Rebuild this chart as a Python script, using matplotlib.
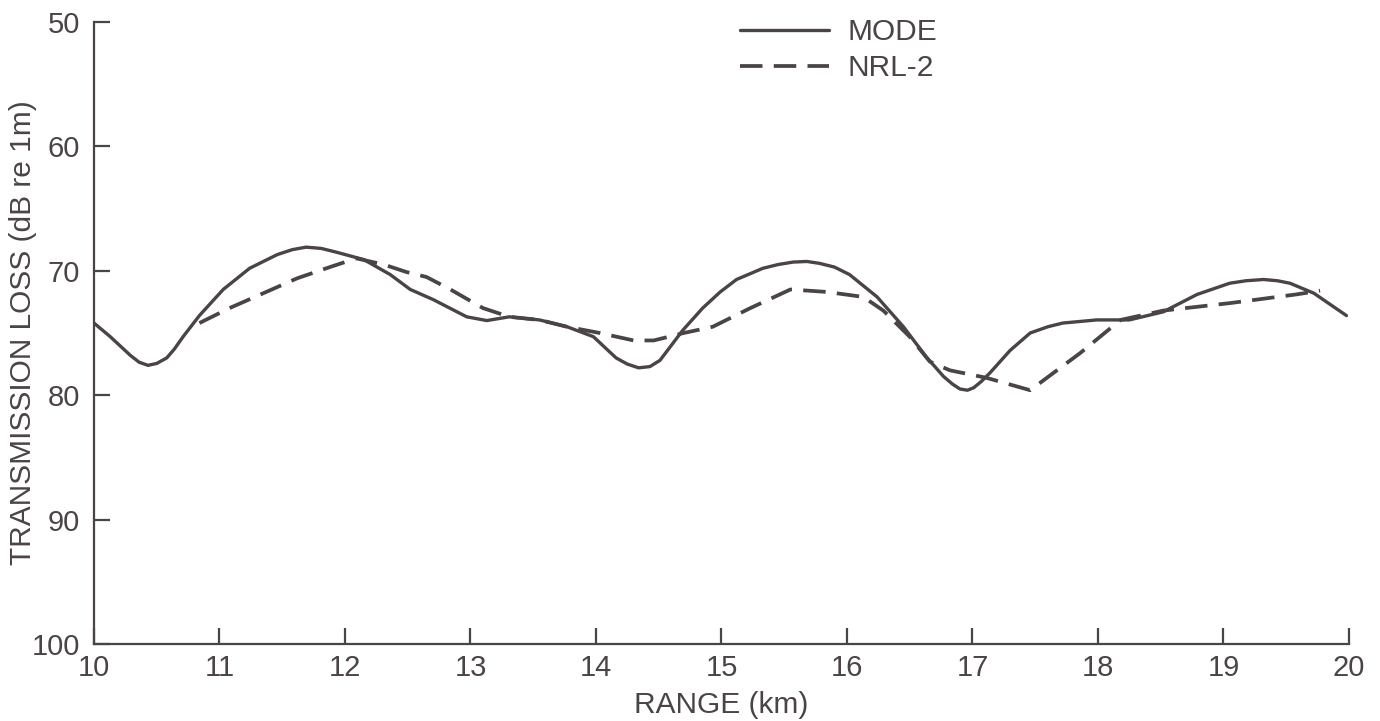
import matplotlib
matplotlib.use("Agg")
import matplotlib.pyplot as plt

# transmission loss vs range, normal-mode model and NRL-2 model
mode_km = [10.0, 10.13, 10.29, 10.36, 10.43, 10.5, 10.58, 10.64, 10.71, 10.84,
           11.03, 11.24, 11.46, 11.58, 11.69, 11.81, 11.93, 12.15, 12.36, 12.52,
           12.7, 12.97, 13.13, 13.31, 13.55, 13.77, 13.98, 14.16, 14.25, 14.34,
           14.43, 14.51, 14.69, 14.85, 14.99, 15.12, 15.33, 15.45, 15.57, 15.68,
           15.78, 15.9, 16.02, 16.24, 16.45, 16.63, 16.77, 16.84, 16.9, 16.96,
           17.01, 17.07, 17.14, 17.3, 17.46, 17.6, 17.72, 17.99, 18.25, 18.52,
           18.79, 19.05, 19.18, 19.32, 19.43, 19.53, 19.72, 19.98]
mode_db = [74.2, 75.3, 76.8, 77.35, 77.6, 77.45, 77.0, 76.3, 75.3, 73.6,
           71.5, 69.8, 68.7, 68.3, 68.1, 68.2, 68.5, 69.1, 70.3, 71.5,
           72.3, 73.7, 74.0, 73.7, 73.95, 74.5, 75.3, 77.0, 77.5, 77.8,
           77.7, 77.2, 74.8, 73.0, 71.7, 70.7, 69.8, 69.5, 69.3, 69.25,
           69.4, 69.7, 70.3, 72.1, 74.5, 76.9, 78.5, 79.1, 79.5, 79.6,
           79.4, 78.9, 78.2, 76.4, 75.0, 74.5, 74.2, 73.95, 73.95, 73.3,
           71.9, 71.0, 70.8, 70.7, 70.8, 71.0, 71.8, 73.6]

nrl_km = [10.84, 11.08, 11.35, 11.62, 11.88, 12.09, 12.31, 12.49, 12.65, 12.84,
          13.1, 13.31, 13.55, 13.77, 14.03, 14.3, 14.46, 14.7, 14.93, 15.23,
          15.55, 15.84, 16.13, 16.29, 16.5, 16.66, 16.82, 17.11, 17.46, 17.86,
          18.18, 18.52, 19.05, 19.58, 19.77]
nrl_db = [74.2, 73.0, 71.8, 70.6, 69.7, 69.0, 69.5, 70.1, 70.5, 71.5,
          73.0, 73.7, 73.95, 74.5, 75.0, 75.6, 75.6, 75.0, 74.5, 73.0,
          71.5, 71.7, 72.1, 73.2, 75.3, 77.3, 78.0, 78.6, 79.6, 76.6,
          73.95, 73.2, 72.6, 71.9, 71.6]

x_ticks = [10, 11, 12, 13, 14, 15, 16, 17, 18, 19, 20]
y_ticks = [50, 60, 70, 80, 90, 100]

ink = "#4a4444"
plt.rcParams["font.family"] = ["Liberation Sans", "DejaVu Sans"]

fig = plt.figure(figsize=(13.8, 7.21), dpi=100)
ax = fig.add_axes([0.0681, 0.1068, 0.9094, 0.8627])

ax.plot(mode_km, mode_db, color=ink, lw=2.4, label="MODE",
        solid_joinstyle="round", solid_capstyle="round")
ax.plot(nrl_km, nrl_db, color=ink, lw=2.7, dashes=(6, 3), label="NRL-2")

ax.set_xlim(10, 20)
ax.set_ylim(100, 50)
ax.set_xticks(x_ticks)
ax.set_yticks(y_ticks)

for side in ("top", "right"):
    ax.spines[side].set_visible(False)
for side in ("left", "bottom"):
    ax.spines[side].set_color(ink)
    ax.spines[side].set_linewidth(1.6)

ax.tick_params(axis="both", direction="in", length=11.5, width=1.6,
               color=ink, labelcolor=ink, labelsize=21)
ax.tick_params(axis="y", pad=10)
ax.tick_params(axis="x", pad=7)

ax.set_xlabel("RANGE (km)", fontsize=21.5, color=ink, va="center")
ax.xaxis.set_label_coords(0.5, -0.098)
ax.set_ylabel("TRANSMISSION LOSS (dB re 1m)", fontsize=21.5, color=ink,
              va="center")
ax.yaxis.set_label_coords(-0.0565, 0.5)

leg = ax.legend(loc="upper left", bbox_to_anchor=(0.536, 0.975),
                bbox_transform=fig.transFigure, frameon=False, fontsize=21.5,
                handlelength=3.0, handletextpad=0.62, labelspacing=0.28,
                borderpad=0, borderaxespad=0)
for t in leg.get_texts():
    t.set_color(ink)

fig.savefig("out.png", dpi=100, facecolor="white")
